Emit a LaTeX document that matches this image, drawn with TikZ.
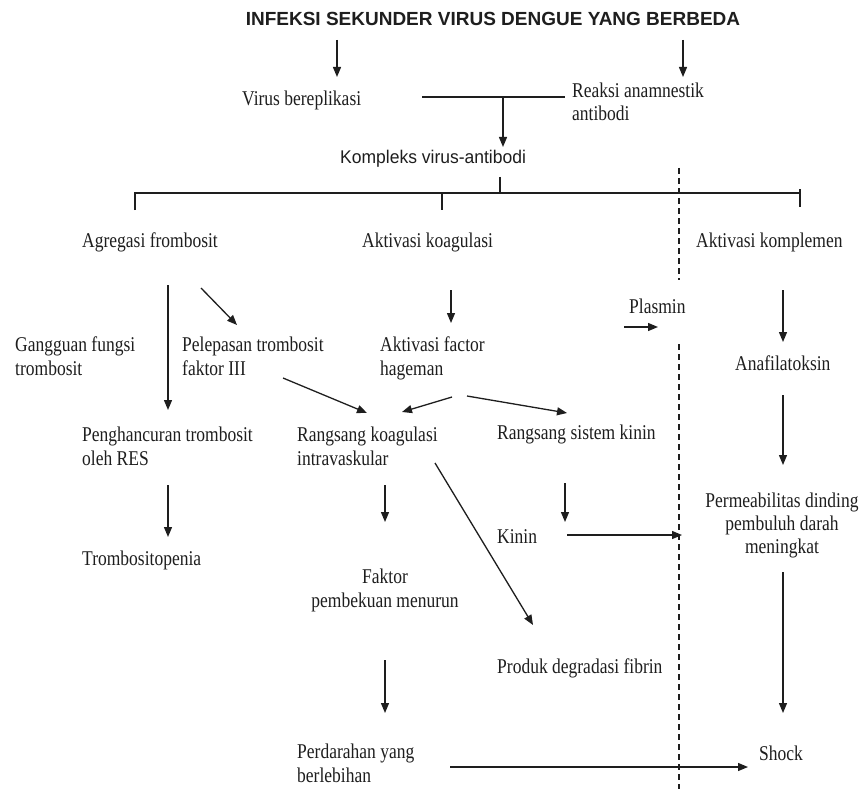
\documentclass[tikz,border=0pt]{standalone}
\usepackage{fontspec}
\setmainfont{Liberation Serif}
\setsansfont{Liberation Sans}
\usetikzlibrary{arrows.meta}
\definecolor{ink}{HTML}{1E1E1E}
\tikzset{
  txt/.style={inner sep=0pt, anchor=base west, align=left, text=ink,
    font=\fontsize{17.5}{20}\selectfont, yscale=1.2},
  ctxt/.style={txt, anchor=base, align=center},
  sanstxt/.style={inner sep=0pt, anchor=base west, text=ink,
    font=\sffamily\fontsize{17.5}{20}\selectfont, yscale=1.05},
  titletxt/.style={inner sep=0pt, anchor=base, text=ink,
    font=\sffamily\bfseries\fontsize{19}{22}\selectfont},
  arr/.style={draw=ink, line width=1.3pt, -{Triangle[length=10pt,width=8pt]}},
  ln/.style={draw=ink, line width=1.4pt},
  dashln/.style={draw=ink, line width=1.3pt, dash pattern=on 6pt off 4pt}
}
\begin{document}
\begin{tikzpicture}[x=1pt,y=-1pt]
\useasboundingbox (0,0) rectangle (865,789);
\fill[white] (0,0) rectangle (865,789);

% texts (base anchor = baseline of the last line)
\node[titletxt] (title) at (493,26) {INFEKSI SEKUNDER VIRUS DENGUE YANG BERBEDA};
\node[txt] (virus) at (242,106) {Virus bereplikasi};
\node[txt] (reaksi) at (572,121) {Reaksi anamnestik\\antibodi};
\node[sanstxt] (kompleks) at (340,164) {Kompleks virus-antibodi};
\node[txt] (agregasi) at (82,247) {Agregasi frombosit};
\node[txt] (akoag) at (362,247) {Aktivasi koagulasi};
\node[txt] (akomp) at (696,247) {Aktivasi komplemen};
\node[txt] (gangguan) at (15,375) {Gangguan fungsi\\trombosit};
\node[txt] (pelepasan) at (182,375) {Pelepasan trombosit\\faktor III};
\node[txt] (hageman) at (380,375) {Aktivasi factor\\hageman};
\node[txt] (plasmin) at (629,313) {Plasmin};
\node[txt] (anafil) at (735,370) {Anafilatoksin};
\node[txt] (penghancuran) at (82,465) {Penghancuran trombosit\\oleh RES};
\node[txt] (rkoag) at (297,465) {Rangsang koagulasi\\intravaskular};
\node[txt] (rkinin) at (497,439) {Rangsang sistem kinin};
\node[txt] (tromb) at (82,565) {Trombositopenia};
\node[ctxt] (faktor) at (385,607) {Faktor\\pembekuan menurun};
\node[txt] (kinin) at (497,543) {Kinin};
\node[txt] (produk) at (497,673) {Produk degradasi fibrin};
\node[ctxt, font=\fontsize{17.5}{19}\selectfont] (perm) at (782,553) {Permeabilitas dinding\\pembuluh darah\\meningkat};
\node[txt] (perdarahan) at (297,782) {Perdarahan yang\\berlebihan};
\node[ctxt] (shock) at (781,760) {Shock};

% coordinates for connector ends
\coordinate (t1a) at (337,40);  \coordinate (t1b) at (337,77);
\coordinate (t2a) at (683,40);  \coordinate (t2b) at (683,77);
\coordinate (ja) at (422,97);   \coordinate (jb) at (565,97);
\coordinate (jm) at (503,97);   \coordinate (jt) at (503,147);
\coordinate (bl) at (135,193);  \coordinate (br) at (800,193);
\coordinate (bL) at (135,210);  \coordinate (bK) at (442,193); \coordinate (bKd) at (442,210);
\coordinate (bU) at (500,177);  \coordinate (bM) at (500,193);
\coordinate (bRu) at (800,189); \coordinate (bRd) at (800,207);
\coordinate (d1a) at (679,168); \coordinate (d1b) at (679,280);
\coordinate (d2a) at (679,344); \coordinate (d2b) at (679,789);

% top
\draw[arr] (t1a) -- (t1b);
\draw[arr] (t2a) -- (t2b);
\draw[ln] (ja) -- (jb);
\draw[arr] (jm) -- (jt);
% bracket
\draw[ln] (bL) -- (bl) -- (br);
\draw[ln] (bK) -- (bKd);
\draw[ln] (bU) -- (bM);
\draw[ln] (bRu) -- (bRd);
% dashed divider
\draw[dashln] (d1a) -- (d1b);
\draw[dashln] (d2a) -- (d2b);

% left column
\draw[arr] (168,285) -- (168,410);
\draw[arr] (201,288) -- (237,325);
\draw[arr] (168,485) -- (168,537);
% middle
\draw[arr] (451,290) -- (451,323);
\draw[arr] (283,378) -- (367,413);
\draw[arr] (452,397) -- (402,412);
\draw[arr] (467,396) -- (567,413);
\draw[arr] (385,485) -- (385,522);
\draw[arr] (385,660) -- (385,713);
\draw[arr] (435,463) -- (533,625);
\draw[arr] (565,483) -- (565,522);
\draw[arr] (567,535) -- (682,535);
\draw[arr] (624,327) -- (658,327);
\draw[arr] (450,767) -- (748,767);
% right
\draw[arr] (783,290) -- (783,342);
\draw[arr] (783,395) -- (783,465);
\draw[arr] (783,572) -- (783,713);
\end{tikzpicture}
\end{document}
